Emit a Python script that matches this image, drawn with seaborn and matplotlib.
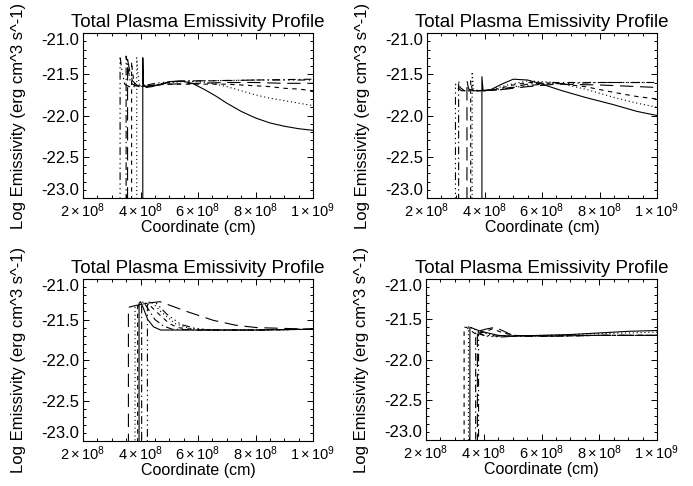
import matplotlib
matplotlib.use("Agg")
import matplotlib.pyplot as plt
import seaborn as sns
import pandas as pd
from matplotlib.ticker import MultipleLocator, FixedLocator, FixedFormatter

# ---------------- data (x in units of 1e8 cm, y = log emissivity) ----------------
# Panel 1 (top-left)
tl_solid_x = [4.08, 4.08, 4.10, 4.20, 4.40, 4.70, 5.00, 5.40, 5.80, 6.20, 6.60, 7.00, 7.50, 8.00, 8.50, 9.00, 9.50, 10.0]
tl_solid_y = [-24.0, -21.30, -21.62, -21.66, -21.65, -21.62, -21.59, -21.58, -21.61, -21.68, -21.76, -21.85, -21.95, -22.03, -22.09, -22.13, -22.16, -22.18]
tl_dot_x = [3.87, 3.87, 3.90, 3.95, 4.10, 4.50, 5.00, 5.50, 6.00, 6.50, 7.00, 7.50, 8.00, 8.50, 9.00, 9.50, 10.0]
tl_dot_y = [-24.0, -21.30, -21.45, -21.62, -21.65, -21.63, -21.60, -21.59, -21.59, -21.61, -21.65, -21.70, -21.75, -21.79, -21.82, -21.85, -21.88]
tl_dash_x = [3.69, 3.69, 3.73, 3.80, 4.00, 4.50, 5.00, 6.00, 7.00, 7.50, 8.00, 8.50, 9.00, 9.50, 10.0]
tl_dash_y = [-24.0, -21.35, -21.50, -21.63, -21.65, -21.63, -21.62, -21.62, -21.62, -21.63, -21.64, -21.65, -21.67, -21.68, -21.70]
tl_dashdot_x = [3.50, 3.50, 3.55, 3.65, 3.80, 4.20, 4.60, 5.00, 5.50, 6.50, 8.00, 10.0]
tl_dashdot_y = [-24.0, -21.28, -21.40, -21.60, -21.64, -21.65, -21.63, -21.60, -21.58, -21.58, -21.57, -21.56]
tl_dash3dot_x = [3.29, 3.29, 3.35, 3.45, 3.60, 4.00, 4.50, 5.00, 6.00, 8.00, 10.0]
tl_dash3dot_y = [-24.0, -21.28, -21.45, -21.62, -21.65, -21.65, -21.61, -21.59, -21.58, -21.57, -21.57]
tl_longdash_x = [3.55, 3.55, 3.62, 3.72, 3.90, 4.30, 5.00, 6.00, 7.00, 8.00, 9.00, 10.0]
tl_longdash_y = [-24.0, -21.32, -21.45, -21.58, -21.64, -21.64, -21.62, -21.61, -21.60, -21.60, -21.61, -21.61]

# Panel 2 (top-right)
tr_solid_x = [3.91, 3.91, 3.95, 4.20, 4.60, 5.00, 5.50, 6.00, 6.70, 7.50, 8.50, 9.30, 10.0]
tr_solid_y = [-24.0, -21.53, -21.70, -21.69, -21.62, -21.56, -21.57, -21.62, -21.70, -21.78, -21.87, -21.95, -22.00]
tr_dot_x = [3.57, 3.57, 3.62, 3.80, 4.20, 4.80, 5.50, 6.50, 7.50, 8.50, 9.30, 10.0]
tr_dot_y = [-24.0, -21.47, -21.68, -21.70, -21.69, -21.63, -21.58, -21.60, -21.68, -21.78, -21.85, -21.90]
tr_dash_x = [3.52, 3.52, 3.58, 3.80, 4.30, 5.00, 5.50, 6.50, 7.50, 8.50, 9.30, 10.0]
tr_dash_y = [-24.0, -21.58, -21.70, -21.70, -21.69, -21.63, -21.60, -21.61, -21.65, -21.72, -21.77, -21.80]
tr_dashdot_x = [3.10, 3.10, 3.15, 3.30, 4.00, 4.50, 5.50, 6.50, 8.00, 10.0]
tr_dashdot_y = [-24.0, -21.58, -21.66, -21.70, -21.70, -21.69, -21.62, -21.60, -21.60, -21.60]
tr_dash3dot_x = [2.99, 2.99, 3.05, 3.20, 4.00, 5.00, 6.00, 8.00, 10.0]
tr_dash3dot_y = [-24.0, -21.62, -21.66, -21.70, -21.70, -21.66, -21.62, -21.60, -21.60]
tr_longdash_x = [3.39, 3.39, 3.45, 3.60, 4.50, 5.50, 6.50, 8.00, 10.0]
tr_longdash_y = [-24.0, -21.58, -21.68, -21.70, -21.69, -21.65, -21.62, -21.63, -21.66]

# Panel 3 (bottom-left)
bl_solid_x = [3.95, 3.95, 4.00, 4.10, 4.25, 4.45, 4.70, 5.20, 6.00, 8.00, 10.0]
bl_solid_y = [-24.0, -21.30, -21.28, -21.36, -21.50, -21.59, -21.63, -21.63, -21.63, -21.63, -21.62]
bl_dot_x = [3.81, 3.81, 3.95, 4.15, 4.39, 4.70, 5.20, 5.70, 6.50, 8.00, 10.0]
bl_dot_y = [-24.0, -21.35, -21.32, -21.30, -21.28, -21.40, -21.55, -21.61, -21.63, -21.63, -21.62]
bl_dash_x = [3.90, 3.90, 4.05, 4.25, 4.60, 5.00, 5.30, 6.00, 8.00, 10.0]
bl_dash_y = [-24.0, -21.34, -21.31, -21.30, -21.42, -21.55, -21.60, -21.63, -21.63, -21.62]
bl_dashdot_x = [4.04, 4.04, 4.10, 4.25, 4.50, 4.80, 5.10, 6.00, 8.00, 10.0]
bl_dashdot_y = [-24.0, -21.30, -21.28, -21.36, -21.50, -21.58, -21.62, -21.63, -21.63, -21.62]
bl_dash3dot_x = [4.24, 4.24, 4.35, 4.55, 4.90, 5.40, 5.90, 6.50, 8.00, 10.0]
bl_dash3dot_y = [-24.0, -21.32, -21.29, -21.30, -21.43, -21.56, -21.61, -21.63, -21.63, -21.62]
bl_longdash_x = [3.58, 3.58, 3.80, 4.20, 4.68, 5.60, 6.53, 7.30, 8.04, 9.00, 10.0]
bl_longdash_y = [-24.0, -21.35, -21.33, -21.30, -21.28, -21.40, -21.51, -21.57, -21.60, -21.61, -21.62]

# Panel 4 (bottom-right)
br_solid_x = [3.52, 3.52, 3.60, 3.90, 4.50, 5.00, 6.00, 7.00, 8.00, 9.00, 10.0]
br_solid_y = [-24.0, -21.60, -21.61, -21.65, -21.70, -21.71, -21.70, -21.69, -21.67, -21.65, -21.64]
br_dot_x = [3.47, 3.47, 3.55, 3.80, 4.30, 5.00, 6.00, 7.00, 8.00, 9.00, 10.0]
br_dot_y = [-24.0, -21.59, -21.60, -21.65, -21.70, -21.71, -21.70, -21.69, -21.68, -21.67, -21.66]
br_dash_x = [3.32, 3.32, 3.40, 3.70, 4.00, 4.30, 4.60, 5.00, 6.00, 8.00, 10.0]
br_dash_y = [-24.0, -21.60, -21.60, -21.68, -21.66, -21.62, -21.66, -21.70, -21.71, -21.70, -21.70]
br_dashdot_x = [3.72, 3.72, 3.80, 4.00, 4.50, 5.00, 6.00, 8.00, 10.0]
br_dashdot_y = [-24.0, -21.65, -21.66, -21.70, -21.71, -21.71, -21.71, -21.70, -21.70]
br_dash3dot_x = [3.82, 3.82, 3.90, 4.10, 4.60, 5.20, 6.50, 8.00, 10.0]
br_dash3dot_y = [-24.0, -21.68, -21.69, -21.71, -21.72, -21.71, -21.71, -21.70, -21.70]
br_longdash_x = [3.78, 3.78, 3.90, 4.10, 4.40, 4.70, 5.00, 6.00, 8.00, 10.0]
br_longdash_y = [-24.0, -21.63, -21.64, -21.62, -21.60, -21.65, -21.70, -21.71, -21.70, -21.70]

style_names = ["solid", "dotted", "dashed", "dashdot", "dash3dot", "longdash"]
x_tick_values = [2e8, 4e8, 6e8, 8e8, 1e9]
x_tick_labels = [r"$2\times10^{8}$", r"$4\times10^{8}$", r"$6\times10^{8}$", r"$8\times10^{8}$", r"$1\times10^{9}$"]
y_tick_values = [-23.0, -22.5, -22.0, -21.5, -21.0]
y_tick_labels = ["-23.0", "-22.5", "-22.0", "-21.5", "-21.0"]
title_text = "Total Plasma Emissivity Profile"
x_label = "Coordinate (cm)"
y_label = "Log Emissivity (erg cm^3 s^-1)"

panels = [
    [(tl_solid_x, tl_solid_y), (tl_dot_x, tl_dot_y), (tl_dash_x, tl_dash_y),
     (tl_dashdot_x, tl_dashdot_y), (tl_dash3dot_x, tl_dash3dot_y), (tl_longdash_x, tl_longdash_y)],
    [(tr_solid_x, tr_solid_y), (tr_dot_x, tr_dot_y), (tr_dash_x, tr_dash_y),
     (tr_dashdot_x, tr_dashdot_y), (tr_dash3dot_x, tr_dash3dot_y), (tr_longdash_x, tr_longdash_y)],
    [(bl_solid_x, bl_solid_y), (bl_dot_x, bl_dot_y), (bl_dash_x, bl_dash_y),
     (bl_dashdot_x, bl_dashdot_y), (bl_dash3dot_x, bl_dash3dot_y), (bl_longdash_x, bl_longdash_y)],
    [(br_solid_x, br_solid_y), (br_dot_x, br_dot_y), (br_dash_x, br_dash_y),
     (br_dashdot_x, br_dashdot_y), (br_dash3dot_x, br_dash3dot_y), (br_longdash_x, br_longdash_y)],
]

# ---------------- styling ----------------
sns.set_theme(style="ticks")
plt.rcParams.update({
    "font.family": ["Liberation Sans", "DejaVu Sans"],
    "mathtext.fontset": "custom",
    "mathtext.rm": "Liberation Sans",
    "mathtext.it": "Liberation Sans",
    "mathtext.bf": "Liberation Sans",
    "mathtext.default": "regular",
    "axes.unicode_minus": False,
    "axes.edgecolor": "black",
    "axes.linewidth": 0.8,
    "text.color": "black",
    "axes.labelcolor": "black",
    "xtick.color": "black",
    "ytick.color": "black",
})

linestyles = {
    "solid": "-",
    "dotted": (0, (1, 2.5)),
    "dashed": (0, (4, 4)),
    "dashdot": (0, (7, 3, 1.2, 3)),
    "dash3dot": (0, (7, 3, 1.2, 3, 1.2, 3, 1.2, 3)),
    "longdash": (0, (12, 6)),
}

W, H = 693, 486
boxes = [(83, 33, 313, 198), (427, 33, 657, 198), (83, 279, 313, 441), (426, 279, 657, 440)]

fig = plt.figure(figsize=(W / 100, H / 100), dpi=100)
for (l, t, r, b), curves in zip(boxes, panels):
    ax = fig.add_axes([l / W, 1 - b / H, (r - l) / W, (b - t) / H])
    for name, (xs, ys) in zip(style_names, curves):
        df = pd.DataFrame({"x": [v * 1e8 for v in xs], "y": ys})
        sns.lineplot(data=df, x="x", y="y", ax=ax, estimator=None, sort=False,
                     color="black", linewidth=0.8, linestyle=linestyles[name])
    ax.set_xlim(2e8, 1e9)
    ax.set_ylim(-23.0, -21.0)
    ax.xaxis.set_major_locator(FixedLocator(x_tick_values))
    ax.xaxis.set_major_formatter(FixedFormatter(x_tick_labels))
    ax.xaxis.set_minor_locator(MultipleLocator(0.5e8))
    ax.yaxis.set_major_locator(FixedLocator(y_tick_values))
    ax.yaxis.set_major_formatter(FixedFormatter(y_tick_labels))
    ax.yaxis.set_minor_locator(MultipleLocator(0.1))
    ax.tick_params(which="both", direction="in", top=True, right=True, width=0.7)
    ax.tick_params(which="major", length=4.5)
    ax.tick_params(which="minor", length=2.2)
    ax.tick_params(axis="y", pad=3, labelsize=12)
    ax.tick_params(axis="x", pad=2.5, labelsize=10.5)
    ylabels = ax.get_yticklabels()
    ylabels[0].set_verticalalignment("bottom")
    ylabels[-1].set_verticalalignment("top")
    ax.set_title(title_text, fontsize=13.5, pad=4)
    ax.set_xlabel(x_label, fontsize=11.5, labelpad=0)
    ax.set_ylabel(y_label, fontsize=12, labelpad=11)
    for s in ax.spines.values():
        s.set_visible(True)
        s.set_linewidth(0.8)

fig.savefig("out.png", dpi=100, facecolor="white")
